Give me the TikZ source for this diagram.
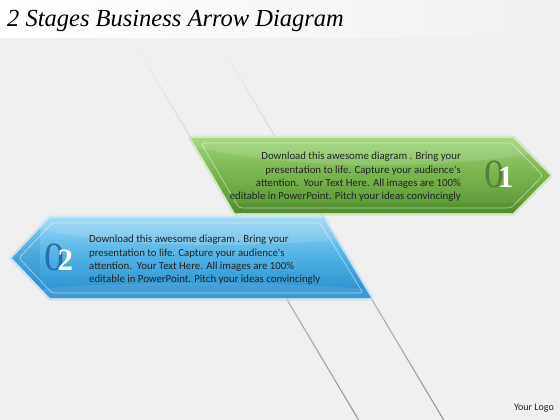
\documentclass[tikz,border=0pt]{standalone}
\usepackage{fontspec}
\newfontfamily\bodyfont{Carlito}
\newfontfamily\numfont{Liberation Serif}
\newfontfamily\titlefont{Liberation Serif}
\definecolor{bgc}{RGB}{240,240,240}
\definecolor{gtop}{RGB}{158,210,118}
\definecolor{gmid}{RGB}{118,180,76}
\definecolor{gbot}{RGB}{86,148,50}
\definecolor{gdark}{RGB}{62,110,38}
\definecolor{gzero}{RGB}{82,128,58}
\definecolor{btop}{RGB}{150,214,244}
\definecolor{bmid}{RGB}{78,176,228}
\definecolor{bbot}{RGB}{40,138,204}
\definecolor{bdark}{RGB}{30,90,150}
\definecolor{bzero}{RGB}{40,110,170}
\definecolor{txt}{RGB}{35,35,35}
\definecolor{linec}{RGB}{130,130,130}
\tikzset{
  divider/.style={top color=bgc, middle color=linec, bottom color=linec!80!bgc},
  bodytext/.style={font=\bodyfont\fontsize{10.8}{13.4}\selectfont, text=txt, inner sep=0pt},
  inset/.style={draw=white, draw opacity=0.55, line width=0.6pt, rounded corners=3pt},
  numlabel/.style={inner sep=0pt, font=\numfont},
}
\newcommand{\stagenum}[2]{{\fontsize{40}{40}\selectfont\color{#1}0}\kern-7pt{\bfseries\fontsize{31}{31}\selectfont\color{white}#2}}
\begin{document}
\begin{tikzpicture}[x=1pt,y=-1pt]
\useasboundingbox (0,0) rectangle (560,420);
% background
\fill[bgc] (0,0) rectangle (560,420);
\shade[left color=white, right color=bgc] (0,0) rectangle (560,38);
\node[anchor=west, font=\titlefont\itshape\fontsize{24.5}{24.5}\selectfont, inner sep=0pt] (title) at (7,21) {2 Stages Business Arrow Diagram};
% divider lines
\shade[divider] (133,42) -- (134.3,42) -- (359.3,420) -- (358,420) -- cycle;
\shade[divider] (218,42) -- (219.3,42) -- (444.3,420) -- (443,420) -- cycle;
% green arrow
\coordinate (g1) at (191,138);
\coordinate (g2) at (513,138);
\coordinate (g3) at (550,175.5);
\coordinate (g4) at (513,213);
\coordinate (g5) at (235,213);
\draw[line width=5pt, draw={rgb,255:red,200;green,230;blue,180}, line join=round, opacity=0.7] (g1) -- (g2) -- (g3) -- (g4) -- (g5) -- cycle;
\shade[top color=gtop, bottom color=gbot, middle color=gmid] (g1) -- (g2) -- (g3) -- (g4) -- (g5) -- cycle;
\begin{scope}
\clip (g1) -- (g2) -- (g3) -- (g4) -- (g5) -- cycle;
\fill[white, opacity=0.12] (380,120) ellipse (230 and 45);
\fill[gdark, opacity=0.15] (191,203) rectangle (560,213);
\end{scope}
\draw[inset] (201,143) -- (511,143) -- (543,175.5) -- (511,208) -- (239,208) -- cycle;
\node[bodytext, align=right, anchor=east] (gtext) at (461,177) {Download this awesome diagram . Bring your\\presentation to life. Capture your audience's\\attention.\ \ Your Text\ Here. All images are 100\%\\editable in\ PowerPoint. Pitch your ideas convincingly};
\node[numlabel, anchor=center] (gnum) at (499,174) {\stagenum{gzero}{1}};
% blue arrow
\coordinate (b1) at (50,218);
\coordinate (b2) at (323,218);
\coordinate (b3) at (371,298);
\coordinate (b4) at (50,298);
\coordinate (b5) at (12,258);
\draw[line width=5pt, draw={rgb,255:red,185;green,225;blue,245}, line join=round, opacity=0.7] (b1) -- (b2) -- (b3) -- (b4) -- (b5) -- cycle;
\shade[top color=btop, bottom color=bbot, middle color=bmid] (b1) -- (b2) -- (b3) -- (b4) -- (b5) -- cycle;
\begin{scope}
\clip (b1) -- (b2) -- (b3) -- (b4) -- (b5) -- cycle;
\fill[white, opacity=0.12] (220,205) ellipse (230 and 40);
\fill[white, opacity=0.10] (200,298) ellipse (200 and 15);
\fill[bdark, opacity=0.12] (0,218) rectangle (40,298);
\end{scope}
\draw[inset] (52,223) -- (320,223) -- (363,293) -- (52,293) -- (19,258) -- cycle;
\node[bodytext, align=left, anchor=west] (btext) at (89,260) {Download this awesome diagram . Bring your\\presentation to life. Capture your audience's\\attention.\ \ Your Text\ Here. All images are 100\%\\editable in\ PowerPoint. Pitch your ideas convincingly};
\node[numlabel, anchor=center] (bnum) at (59,257) {\stagenum{bzero}{2}};
% logo
\node[font=\bodyfont\fontsize{10}{10}\selectfont, text=txt, anchor=east, inner sep=0pt] (logo) at (554,408) {Your Logo};
\end{tikzpicture}
\end{document}
